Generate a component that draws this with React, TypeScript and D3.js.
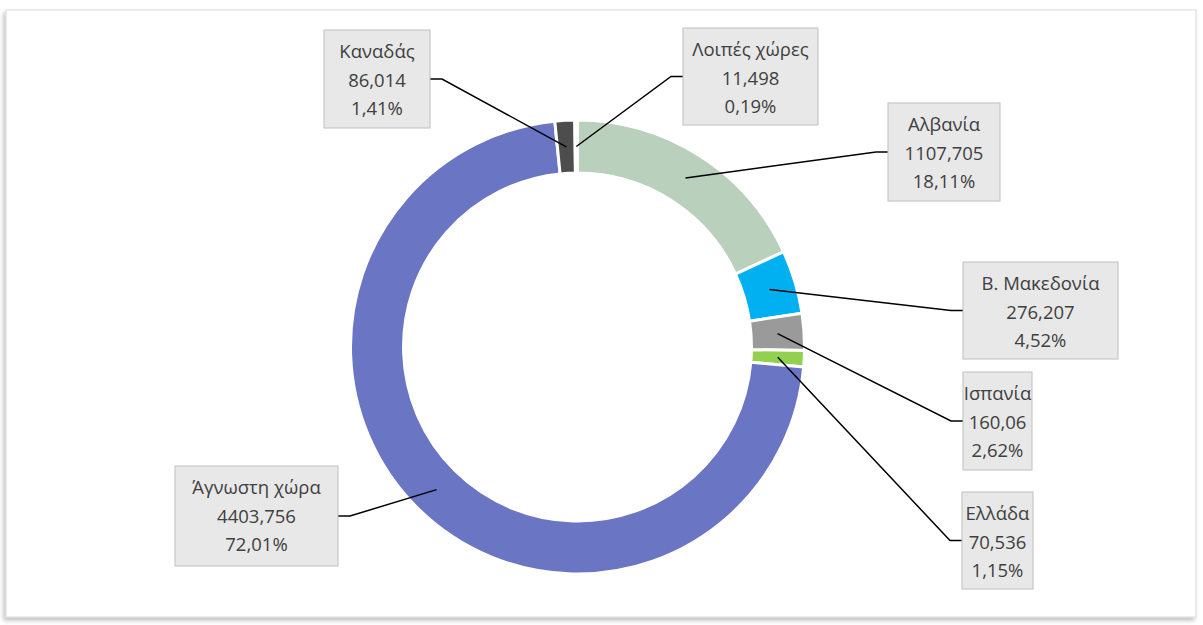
import React, { useEffect, useRef } from 'react';
import * as d3 from 'd3';

// chart data
const countries = ['Αλβανία', 'Β. Μακεδονία', 'Ισπανία', 'Ελλάδα', 'Άγνωστη χώρα', 'Καναδάς', 'Λοιπές χώρες'];
const valueLabels = ['1107,705', '276,207', '160,06', '70,536', '4403,756', '86,014', '11,498'];
const values = [1107.705, 276.207, 160.06, 70.536, 4403.756, 86.014, 11.498];
const percentLabels = ['18,11%', '4,52%', '2,62%', '1,15%', '72,01%', '1,41%', '0,19%'];

const colors = ['#b9d0bd', '#00b0f0', '#9a9a9a', '#92d050', '#6a75c4', '#4d4d4d', '#ffffff'];

// label boxes: x, y, w, h and which side the leader leaves from
const boxes = [
  { x: 888, y: 103, w: 112, h: 98, side: 'left' },
  { x: 963, y: 262, w: 155, h: 97, side: 'left' },
  { x: 963, y: 372, w: 69, h: 98, side: 'left' },
  { x: 962, y: 492, w: 71, h: 97, side: 'left' },
  { x: 175, y: 466, w: 163, h: 100, side: 'right' },
  { x: 324, y: 30, w: 106, h: 98, side: 'right' },
  { x: 683, y: 28, w: 135, h: 97, side: 'left' },
];

const W = 1203;
const H = 625;

export default function App() {
  const ref = useRef<SVGSVGElement | null>(null);

  useEffect(() => {
    const svg = d3.select(ref.current);
    svg.selectAll('*').remove();

    const defs = svg.append('defs');
    const f = defs.append('filter').attr('id', 'shadow')
      .attr('x', '-5%').attr('y', '-5%').attr('width', '110%').attr('height', '110%');
    f.append('feDropShadow').attr('dx', -2).attr('dy', 3).attr('stdDeviation', 2)
      .attr('flood-color', '#000').attr('flood-opacity', 0.25);

    // outer frame
    svg.append('rect')
      .attr('x', 6).attr('y', 10).attr('width', 1190).attr('height', 607)
      .attr('fill', '#fff').attr('stroke', '#d9d9d9').attr('stroke-width', 1)
      .style('filter', 'url(#shadow)');

    const cx = 577.5;
    const cy = 347;
    const outerR = 227;
    const innerR = 174;

    const pie = d3.pie<number>().sort(null).value(d => d);
    const arcs = pie(values);
    const arc = d3.arc<d3.PieArcDatum<number>>().innerRadius(innerR).outerRadius(outerR);

    const g = svg.append('g').attr('transform', `translate(${cx},${cy})`);
    g.selectAll('path')
      .data(arcs)
      .enter()
      .append('path')
      .attr('d', arc)
      .attr('fill', (d, i) => colors[i])
      .attr('stroke', '#fff')
      .attr('stroke-width', 3)
      .attr('stroke-linejoin', 'miter');

    // leader lines
    arcs.forEach((d, i) => {
      const b = boxes[i];
      const [px, py] = arc.centroid(d);
      const ex = b.side === 'left' ? b.x : b.x + b.w;
      const ey = b.y + b.h / 2;
      const sx = b.side === 'left' ? ex - 12 : ex + 12;
      svg.append('polyline')
        .attr('points', `${ex},${ey} ${sx},${ey} ${cx + px},${cy + py}`)
        .attr('fill', 'none')
        .attr('stroke', '#000')
        .attr('stroke-width', 1.5);
    });

    // label boxes
    countries.forEach((name, i) => {
      const b = boxes[i];
      const lg = svg.append('g');
      lg.append('rect')
        .attr('x', b.x).attr('y', b.y).attr('width', b.w).attr('height', b.h)
        .attr('fill', '#e8e8e8').attr('stroke', '#bfbfbf').attr('stroke-width', 1);
      const lines = [name, valueLabels[i], percentLabels[i]];
      lines.forEach((t, j) => {
        lg.append('text')
          .attr('x', b.x + b.w / 2)
          .attr('y', b.y + 28 + j * 28.5)
          .attr('text-anchor', 'middle')
          .attr('fill', '#404040')
          .attr('font-family', '"Open Sans", sans-serif')
          .attr('font-size', '18.5px')
          .text(t);
      });
    });
  }, []);

  return (
    <div style={{ position: 'absolute', left: 0, top: 0 }}>
      <svg ref={ref} width={W} height={H} style={{ display: 'block' }} />
    </div>
  );
}
